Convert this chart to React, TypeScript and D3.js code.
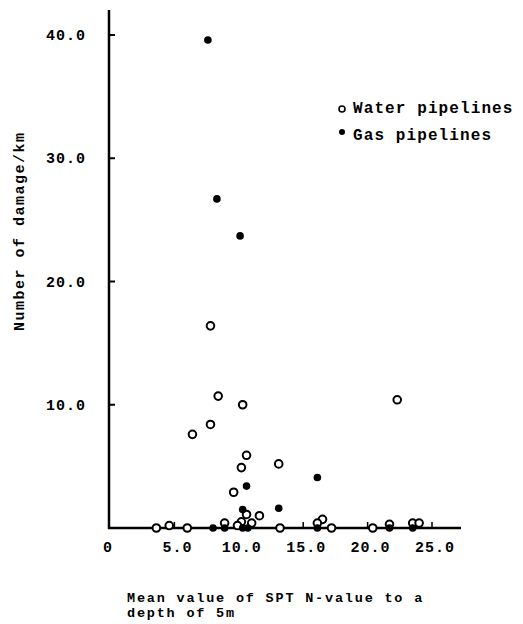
import { useEffect, useRef } from "react";
import * as d3 from "d3";

// N-value (x) vs damage per km (y)
const waterX = [7.8, 8.4, 10.3, 7.8, 6.4, 10.6, 10.2, 13.1, 9.6, 10.6, 11.6, 10.2, 11.0, 9.9, 8.9, 16.5, 16.1, 21.7, 23.5, 24.0, 3.6, 4.6, 6.0, 13.2, 17.2, 20.4, 22.3];
const waterY = [16.4, 10.7, 10.0, 8.4, 7.6, 5.9, 4.9, 5.2, 2.9, 1.1, 1.0, 0.5, 0.4, 0.2, 0.4, 0.7, 0.4, 0.3, 0.4, 0.4, 0.0, 0.2, 0.0, 0.0, 0.0, 0.0, 10.4];
const gasX = [7.6, 8.3, 10.1, 16.1, 10.6, 10.3, 13.1, 8.0, 8.9, 10.3, 10.7, 16.1, 21.7, 23.5];
const gasY = [39.6, 26.7, 23.7, 4.1, 3.4, 1.5, 1.6, 0.0, 0.0, 0.0, 0.0, 0.0, 0.0, 0.0];
const xTicks = [0, 5, 10, 15, 20, 25];
const yTicks = [10, 20, 30, 40];
const legendLabels = ["Water pipelines", "Gas pipelines"];

const FONT = "'Liberation Mono', 'DejaVu Sans Mono', monospace";

export default function App() {
  const svgRef = useRef<SVGSVGElement | null>(null);

  useEffect(() => {
    const width = 523;
    const height = 624;
    const svg = d3.select(svgRef.current);
    svg.selectAll("*").remove();
    svg.attr("width", width).attr("height", height);

    const x = d3.scaleLinear().domain([0, 25]).range([110, 432]);
    const y = d3.scaleLinear().domain([0, 40]).range([528, 35]);

    // axes
    svg.append("line")
      .attr("x1", 109).attr("x2", 109).attr("y1", 10).attr("y2", 529)
      .attr("stroke", "#000").attr("stroke-width", 2.5);
    svg.append("line")
      .attr("x1", 108).attr("x2", 461).attr("y1", 528).attr("y2", 528)
      .attr("stroke", "#000").attr("stroke-width", 2.5);

    svg.selectAll(".ytick")
      .data(yTicks)
      .join("line")
      .attr("x1", 109).attr("x2", 115)
      .attr("y1", (d) => y(d)).attr("y2", (d) => y(d))
      .attr("stroke", "#000").attr("stroke-width", 2);

    svg.selectAll(".xtick")
      .data(xTicks.slice(1))
      .join("line")
      .attr("x1", (d) => x(d)).attr("x2", (d) => x(d))
      .attr("y1", 528).attr("y2", 522)
      .attr("stroke", "#000").attr("stroke-width", 1.5);

    svg.selectAll(".ylab")
      .data(yTicks)
      .join("text")
      .attr("x", 86)
      .attr("y", (d) => y(d) + 5)
      .attr("text-anchor", "end")
      .attr("font-family", FONT)
      .attr("font-weight", "bold")
      .attr("font-size", 15)
      .attr("letter-spacing", 1)
      .text((d) => d.toFixed(1));

    svg.selectAll(".xlab")
      .data(xTicks)
      .join("text")
      .attr("x", (d) => (d === 0 ? 108 : x(d) + 3))
      .attr("y", 552)
      .attr("text-anchor", "middle")
      .attr("font-family", FONT)
      .attr("font-weight", "bold")
      .attr("font-size", 15)
      .attr("letter-spacing", 1)
      .text((d) => (d === 0 ? "0" : d.toFixed(1)));

    // points
    const water = waterX.map((v, i) => [v, waterY[i]]);
    const gas = gasX.map((v, i) => [v, gasY[i]]);

    svg.selectAll(".water")
      .data(water)
      .join("circle")
      .attr("cx", (d) => x(d[0]))
      .attr("cy", (d) => y(d[1]))
      .attr("r", 3.8)
      .attr("fill", "#fff")
      .attr("stroke", "#000")
      .attr("stroke-width", 2);

    svg.selectAll(".gas")
      .data(gas)
      .join("circle")
      .attr("cx", (d) => x(d[0]))
      .attr("cy", (d) => y(d[1]))
      .attr("r", 3.8)
      .attr("fill", "#000");

    // legend
    const leg = svg.append("g");
    legendLabels.forEach((lab, i) => {
      const ly = 113 + i * 27;
      if (i === 0) {
        leg.append("circle").attr("cx", 342).attr("cy", ly - 4).attr("r", 3)
          .attr("fill", "#fff").attr("stroke", "#000").attr("stroke-width", 1.6);
      } else {
        leg.append("circle").attr("cx", 342).attr("cy", ly - 8).attr("r", 3).attr("fill", "#000");
      }
      leg.append("text")
        .attr("x", 353).attr("y", ly)
        .attr("font-family", FONT).attr("font-weight", "bold")
        .attr("font-size", 16).attr("letter-spacing", 1.1)
        .text(lab);
    });

    // axis titles
    svg.append("text")
      .attr("transform", "translate(24,331) rotate(-90)")
      .attr("font-family", FONT).attr("font-weight", "bold")
      .attr("font-size", 15).attr("letter-spacing", 1.5)
      .text("Number of damage/km");

    const xt = svg.append("text")
      .attr("font-family", FONT).attr("font-weight", "bold")
      .attr("font-size", 13.5).attr("letter-spacing", 1.8);
    xt.append("tspan").attr("x", 127).attr("y", 602).text("Mean value of SPT N-value to a");
    xt.append("tspan").attr("x", 127).attr("y", 617).text("depth of 5m");
  }, []);

  return (
    <svg ref={svgRef} style={{ position: "absolute", left: 0, top: 0, background: "#fff" }}></svg>
  );
}
